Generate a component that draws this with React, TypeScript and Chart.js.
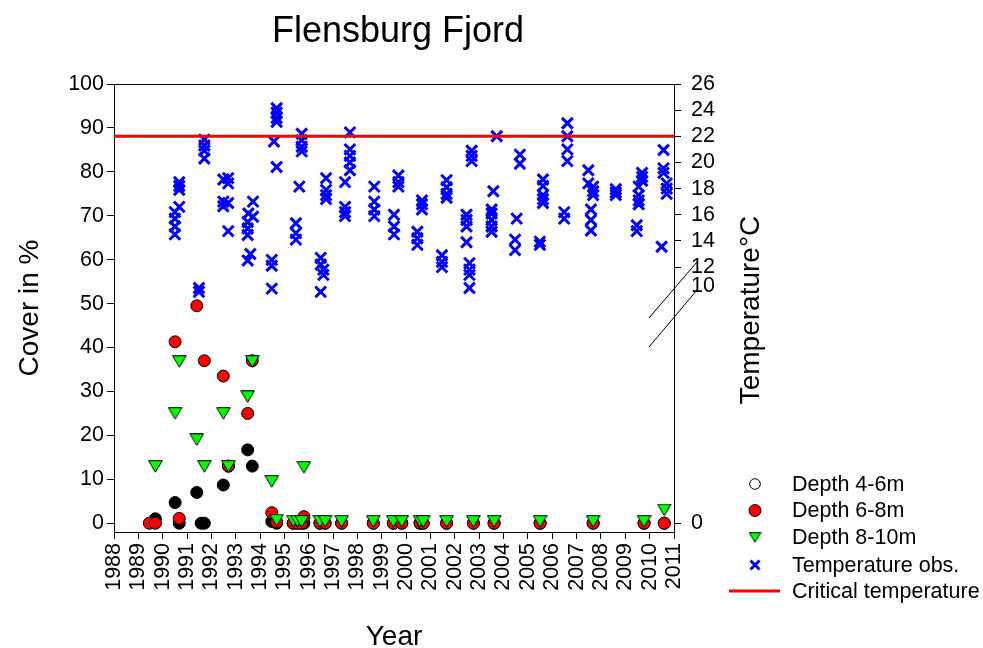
import React, { useEffect, useRef } from 'react';
import { Chart, registerables } from 'chart.js';

Chart.register(...registerables);

// ---------- data ----------
const yearTicks = [1988, 1989, 1990, 1991, 1992, 1993, 1994, 1995, 1996, 1997, 1998, 1999, 2000, 2001, 2002, 2003, 2004, 2005, 2006, 2007, 2008, 2009, 2010, 2011];
const coverTicks = [0, 10, 20, 30, 40, 50, 60, 70, 80, 90, 100];
const tempTicks = [12, 14, 16, 18, 20, 22, 24, 26];

// sampling dates for cover (decimal year)
const coverDates = [1989.45, 1989.70, 1990.51, 1990.68, 1991.40, 1991.58, 1991.71, 1992.49, 1992.70, 1993.49, 1993.68, 1994.48, 1994.68, 1995.36, 1995.53, 1995.71, 1995.80, 1996.46, 1996.67, 1997.35, 1998.65, 1999.47, 1999.82, 2000.57, 2000.70, 2001.66, 2002.76, 2003.61, 2005.50, 2007.68, 2009.77, 2010.60];
const cover4to6 = [null, 1.0, 4.7, 0, 7.0, 0, 0, 8.7, 13.0, 16.7, 13.0, 0.4, 0, 0, 0, 0, 0, 0, 0, 0, 0, 0, 0, 0, 0, 0, 0, 0, 0, 0, 0, 0];
const cover6to8 = [0, 0, 41.3, 1.1, 49.5, null, 37.0, 33.5, 13.0, 25.0, 37.0, 2.4, 0.3, 0, 0, 0, 1.5, 0, 0, 0, 0, 0, 0, 0, 0, 0, 0, 0, 0, 0, 0, 0];
const cover8to10 = [null, 12.9, 25.0, 36.8, 19.0, null, 12.9, 25.0, 12.9, 28.8, 36.8, 9.5, 0.7, 0.5, 0.5, 0.4, 12.7, 0.4, 0.4, 0.4, 0.4, 0.4, 0.4, 0.4, 0.4, 0.4, 0.4, 0.4, 0.4, 0.4, 0.4, 3.0];

// temperature observations: [decimal year, temperatures °C]
const tempObs: [number, number[]][] = [
  [1990.50, [16.2, 15.7, 15.1, 14.5]],
  [1990.68, [18.5, 18.2, 17.9, 16.6]],
  [1991.49, [10.4, 10.1]],
  [1991.71, [21.75, 21.3, 20.9, 20.3]],
  [1992.49, [18.7, 17.0, 16.65]],
  [1992.69, [18.8, 18.4, 16.9, 14.75]],
  [1993.49, [15.45, 14.95, 14.45, 12.5]],
  [1993.52, [16.1]],
  [1993.60, [13.0]],
  [1993.71, [17.0, 15.85]],
  [1994.48, [12.55, 12.1, 10.35]],
  [1994.57, [21.6]],
  [1994.68, [24.15, 23.8, 23.4, 23.1, 19.65]],
  [1995.47, [15.35, 14.6, 14.1]],
  [1995.61, [18.15]],
  [1995.71, [22.2, 21.7, 21.2, 20.85]],
  [1996.49, [12.7, 12.2, 10.1]],
  [1996.60, [11.8, 11.4]],
  [1996.71, [18.8, 17.9, 17.5, 17.2]],
  [1997.49, [18.5, 16.6, 16.2, 15.9]],
  [1997.69, [22.3, 21.0, 20.5, 20.0, 19.4]],
  [1998.69, [18.15, 17.0, 16.4, 15.9]],
  [1999.50, [16.0, 15.1, 14.5]],
  [1999.68, [19.0, 18.5, 18.15]],
  [2000.46, [14.7, 14.2, 13.7]],
  [2000.65, [17.1, 16.8, 16.4]],
  [2001.47, [12.9, 12.4, 12.0]],
  [2001.66, [18.65, 18.1, 17.6, 17.3]],
  [2002.48, [16.0, 15.6, 15.1, 13.9]],
  [2002.60, [12.3, 11.8, 11.4, 10.4]],
  [2002.69, [20.9, 20.5, 20.1]],
  [2003.51, [16.4, 16.1, 15.6, 15.1, 14.7]],
  [2003.58, [17.8]],
  [2003.72, [22.0]],
  [2004.47, [14.1, 13.3]],
  [2004.54, [15.7]],
  [2004.67, [20.6, 19.9]],
  [2005.49, [13.95, 13.7]],
  [2005.62, [18.7, 18.2, 17.5, 17.2, 16.9]],
  [2006.49, [16.2, 15.7]],
  [2006.62, [23.0, 22.0, 21.0, 20.1]],
  [2007.48, [19.4, 18.4]],
  [2007.59, [16.4, 15.6, 14.8]],
  [2007.68, [18.15, 17.8, 17.5]],
  [2008.61, [17.95, 17.7, 17.5]],
  [2009.47, [15.2, 14.75]],
  [2009.55, [18.15, 17.5, 17.1, 16.8]],
  [2009.69, [19.2, 18.9, 18.6]],
  [2010.49, [13.55]],
  [2010.57, [20.95, 19.55, 19.2]],
  [2010.70, [18.4, 18.0, 17.6]],
];

const criticalTemp = 22;

// axis ranges
const coverMin = -2;
const coverMax = 100;
const tempMin = -8.26;
const tempMax = 26;
const tempBreakLabelPos = 10.55; // where the "10" label sits next to the axis break
const tempZero = tempMin + ((tempMax - tempMin) * (0 - coverMin)) / (coverMax - coverMin);

const FONT = '"Liberation Sans", Arial, Helvetica, sans-serif';

function makeTriangle(w: number, h: number): HTMLCanvasElement {
  const c = document.createElement('canvas');
  c.width = w;
  c.height = h;
  const g = c.getContext('2d')!;
  g.beginPath();
  g.moveTo(0.7, 0.7);
  g.lineTo(w - 0.7, 0.7);
  g.lineTo(w / 2, h - 0.8);
  g.closePath();
  g.fillStyle = '#00ff00';
  g.fill();
  g.strokeStyle = '#000';
  g.lineWidth = 1;
  g.stroke();
  return c;
}

export default function App() {
  const ref = useRef<HTMLCanvasElement>(null);

  useEffect(() => {
    document.body.style.margin = '0';
    const canvas = ref.current!;
    const tri = makeTriangle(15, 13);
    const legendTri = makeTriangle(13, 11);

    const toPts = (vals: (number | null)[]) =>
      coverDates.map((d, i) => ({ x: d, y: vals[i] })).filter((p) => p.y !== null) as { x: number; y: number }[];
    const tempPts: { x: number; y: number }[] = [];
    tempObs.forEach(([d, vs]) => vs.forEach((v) => tempPts.push({ x: d, y: v })));

    const decor = {
      id: 'decor',
      afterDraw(chart: any) {
        const { ctx, chartArea: a } = chart;
        ctx.save();
        // top frame line
        ctx.strokeStyle = '#000';
        ctx.lineWidth = 1;
        ctx.beginPath();
        ctx.moveTo(a.left, a.top + 0.5);
        ctx.lineTo(a.right, a.top + 0.5);
        ctx.stroke();
        // axis break marks
        ctx.lineWidth = 1;
        ctx.beginPath();
        ctx.moveTo(a.right - 25, a.top + 234);
        ctx.lineTo(a.right + 23, a.top + 178);
        ctx.moveTo(a.right - 25, a.top + 263);
        ctx.lineTo(a.right + 23, a.top + 206);
        ctx.stroke();

        ctx.fillStyle = '#000';
        // main title
        ctx.font = `36px ${FONT}`;
        ctx.textAlign = 'center';
        ctx.textBaseline = 'middle';
        ctx.fillText('Flensburg Fjord', 398, 32);
        // right axis title (reads bottom-to-top)
        ctx.save();
        ctx.translate(751, (a.top + a.bottom) / 2 + 2);
        ctx.rotate(-Math.PI / 2);
        ctx.font = `28px ${FONT}`;
        ctx.fillText('Temperature°C', 0, 0);
        ctx.restore();

        // legend
        const rows = [484, 510.5, 537.5, 565, 591];
        const mx = 755;
        const tx = 792;
        ctx.font = `21.5px ${FONT}`;
        ctx.textAlign = 'left';
        ctx.textBaseline = 'middle';
        const labels = ['Depth 4-6m', 'Depth 6-8m', 'Depth 8-10m', 'Temperature obs.', 'Critical temperature'];
        labels.forEach((t, i) => ctx.fillText(t, tx, rows[i] + 1));
        ctx.lineWidth = 1;
        ctx.strokeStyle = '#000';
        ctx.beginPath();
        ctx.arc(mx, rows[0], 5.3, 0, Math.PI * 2);
        ctx.fillStyle = '#fff';
        ctx.fill();
        ctx.stroke();
        ctx.beginPath();
        ctx.arc(mx, rows[1], 6, 0, Math.PI * 2);
        ctx.fillStyle = '#ff0000';
        ctx.fill();
        ctx.stroke();
        ctx.drawImage(legendTri, mx - legendTri.width / 2, rows[2] - legendTri.height / 2);
        ctx.strokeStyle = '#0000ff';
        ctx.lineWidth = 3;
        ctx.beginPath();
        ctx.moveTo(mx - 4.5, rows[3] - 4.5);
        ctx.lineTo(mx + 4.5, rows[3] + 4.5);
        ctx.moveTo(mx + 4.5, rows[3] - 4.5);
        ctx.lineTo(mx - 4.5, rows[3] + 4.5);
        ctx.stroke();
        ctx.strokeStyle = '#ff0000';
        ctx.lineWidth = 3;
        ctx.beginPath();
        ctx.moveTo(729, rows[4]);
        ctx.lineTo(780, rows[4]);
        ctx.stroke();
        ctx.restore();
      },
    };

    const tickFont = { family: FONT, size: 21.5 };

    const chart = new Chart(canvas, {
      type: 'scatter',
      data: {
        datasets: [
          {
            type: 'line',
            label: 'Critical temperature',
            data: [
              { x: yearTicks[0], y: criticalTemp },
              { x: yearTicks[yearTicks.length - 1], y: criticalTemp },
            ],
            yAxisID: 'y2',
            borderColor: '#ff0000',
            borderWidth: 3,
            pointRadius: 0,
            order: 0,
          } as any,
          {
            label: 'Depth 8-10m',
            data: toPts(cover8to10),
            yAxisID: 'y',
            pointStyle: tri as any,
            pointRadius: 7,
            order: 1,
          },
          {
            label: 'Depth 6-8m',
            data: toPts(cover6to8),
            yAxisID: 'y',
            pointStyle: 'circle',
            pointRadius: 6,
            backgroundColor: '#ff0000',
            borderColor: '#000',
            borderWidth: 1,
            order: 2,
          },
          {
            label: 'Depth 4-6m',
            data: toPts(cover4to6),
            yAxisID: 'y',
            pointStyle: 'circle',
            pointRadius: 6,
            backgroundColor: '#000',
            borderColor: '#000',
            borderWidth: 1,
            order: 3,
          },
          {
            label: 'Temperature obs.',
            data: tempPts,
            yAxisID: 'y2',
            pointStyle: 'crossRot',
            pointRadius: 7.6,
            borderWidth: 3,
            borderColor: '#0000ff',
            backgroundColor: '#0000ff',
            order: 4,
          },
        ],
      },
      options: {
        responsive: false,
        animation: false,
        events: [],
        layout: { padding: { top: 84, left: 0, right: 209, bottom: 0 } },
        plugins: {
          legend: { display: false },
          title: { display: false },
          tooltip: { enabled: false },
        },
        scales: {
          x: {
            type: 'linear',
            min: yearTicks[0],
            max: yearTicks[yearTicks.length - 1],
            afterBuildTicks: (s: any) => {
              s.ticks = yearTicks.map((v) => ({ value: v }));
            },
            afterFit: (s: any) => {
              s.height = 116;
            },
            ticks: {
              autoSkip: false,
              maxRotation: 90,
              minRotation: 90,
              padding: 4,
              color: '#000',
              font: tickFont,
              callback: (v: any) => String(v),
            },
            grid: { drawOnChartArea: false, drawTicks: true, tickLength: 7, tickColor: '#000' },
            border: { color: '#000', width: 1 },
            title: {
              display: true,
              text: 'Year',
              color: '#000',
              font: { family: FONT, size: 28, lineHeight: 0.8 },
              padding: { top: 0, bottom: 0 },
            },
          },
          y: {
            type: 'linear',
            position: 'left',
            min: coverMin,
            max: coverMax,
            afterBuildTicks: (s: any) => {
              s.ticks = coverTicks.map((v) => ({ value: v }));
            },
            afterFit: (s: any) => {
              s.width = 114;
            },
            ticks: { color: '#000', font: tickFont, padding: 3 },
            grid: { drawOnChartArea: false, drawTicks: true, tickLength: 7, tickColor: '#000' },
            border: { color: '#000', width: 1 },
            title: {
              display: true,
              text: 'Cover in %',
              color: '#000',
              font: { family: FONT, size: 28 },
              padding: { top: 13, bottom: 0 },
            },
          },
          y2: {
            type: 'linear',
            position: 'right',
            min: tempMin,
            max: tempMax,
            afterBuildTicks: (s: any) => {
              s.ticks = [tempZero, tempBreakLabelPos, ...tempTicks].map((v) => ({ value: v }));
            },
            afterFit: (s: any) => {
              s.width = 100;
            },
            ticks: {
              color: '#000',
              font: tickFont,
              padding: 10,
              callback: (v: any) => (v === tempZero ? '0' : v === tempBreakLabelPos ? '10' : String(v)),
            },
            grid: {
              drawOnChartArea: false,
              drawTicks: true,
              tickLength: 7,
              tickColor: (c: any) => (c.tick && c.tick.value === tempBreakLabelPos ? 'rgba(0,0,0,0)' : '#000'),
            },
            border: { color: '#000', width: 1 },
          },
        },
      },
      plugins: [decor],
    });

    return () => chart.destroy();
  }, []);

  return (
    <div style={{ width: 983, height: 648, position: 'relative' }}>
      <canvas ref={ref} width={983} height={648} style={{ display: 'block', width: 983, height: 648 }} />
    </div>
  );
}
